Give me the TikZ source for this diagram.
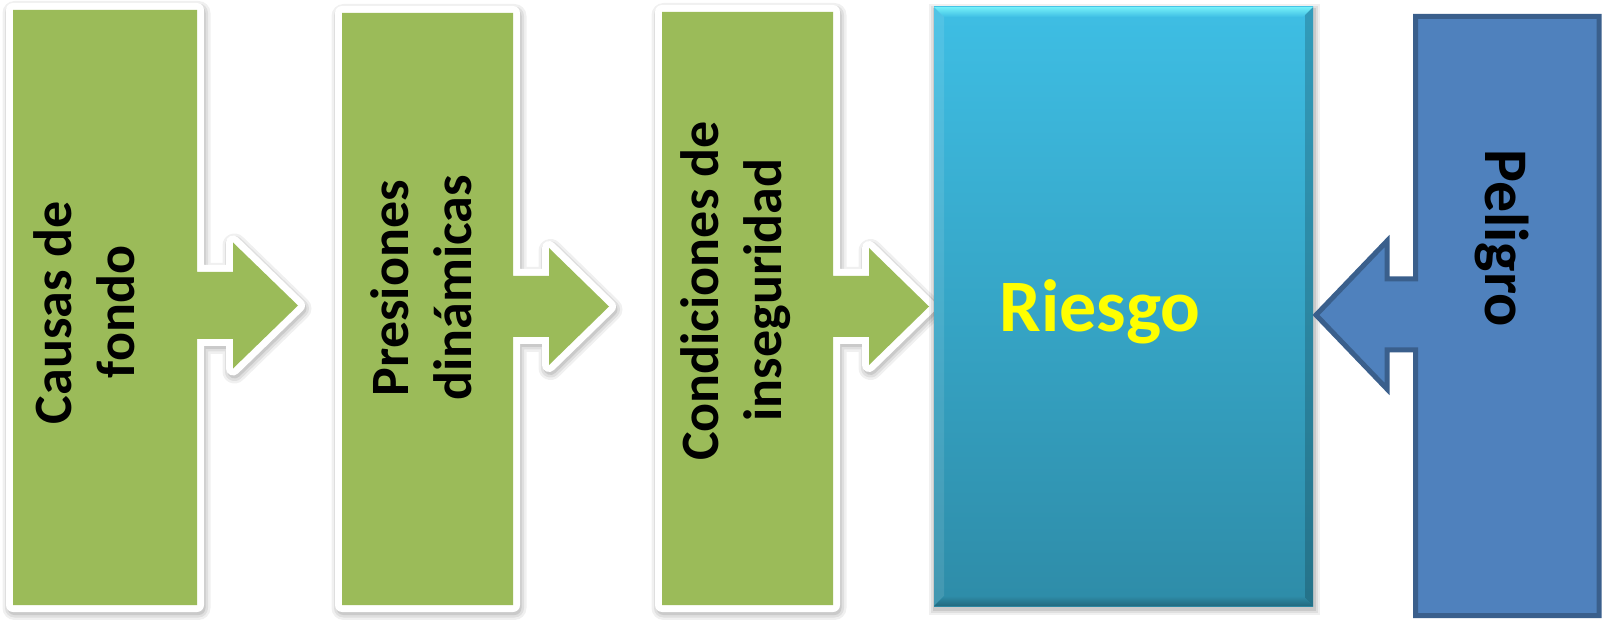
\documentclass[tikz,border=0pt]{standalone}
\usepackage{fontspec}
\setmainfont{Carlito}
\definecolor{gfill}{HTML}{9BBB59}
\definecolor{rtop}{HTML}{3EBEE4}
\definecolor{rbot}{HTML}{2E8CA8}
\definecolor{bfill}{HTML}{4F81BD}
\definecolor{bline}{HTML}{3A5F8C}
\definecolor{ryel}{HTML}{FFFF00}
% L T R B cy neckhalf headhalf tiplen
\newcommand\mygpath[8]{(#1,#2) -- (#3,#2) -- (#3,#5-#6) -- (#3+36,#5-#6) -- (#3+36,#5-#7) -- (#3+#8,#5) -- (#3+36,#5+#7) -- (#3+36,#5+#6) -- (#3,#5+#6) -- (#3,#4) -- (#1,#4) -- cycle}
\newcommand\mygshape[8]{%
  \foreach \w/\o in {24/0.06,19/0.07,14/0.09}{%
    \draw[black, opacity=\o, line width=\w pt, line join=round, shift={(1.5,3)}] \mygpath{#1}{#2}{#3}{#4}{#5}{#6}{#7}{#8};}
  \draw[white, line width=14pt, line join=round] \mygpath{#1}{#2}{#3}{#4}{#5}{#6}{#7}{#8};
  \fill[gfill] \mygpath{#1}{#2}{#3}{#4}{#5}{#6}{#7}{#8};
}
\tikzset{
  gtext/.style={inner sep=0pt, font=\fontsize{54}{60}\selectfont\bfseries, text=black},
  rtext/.style={inner sep=0pt, font=\fontsize{74}{80}\selectfont\bfseries, text=ryel},
  ptext/.style={inner sep=0pt, font=\fontsize{62}{68}\selectfont\bfseries, text=black},
}
\begin{document}
\begin{tikzpicture}[x=1pt,y=-1pt]
\useasboundingbox (0,0) rectangle (1604,620);
\fill[white] (0,0) rectangle (1604,620);
% green arrow boxes
\mygshape{13}{10}{197}{605}{305.5}{33.5}{63}{101}
\mygshape{342}{13}{513}{605}{306.5}{30.5}{58.5}{96}
\mygshape{662}{12}{833}{605}{306.5}{30.5}{58.5}{96}
% Riesgo box
\foreach \w/\o in {12/0.06,8/0.07,4/0.09}{%
  \draw[black, opacity=\o, line width=\w pt, shift={(1,3)}] (934,7) rectangle (1313,606);}
\shade[top color=rtop, bottom color=rbot, middle color=rtop!50!rbot] (934,7) rectangle (1313,606);
\shade[top color=rtop!40!cyan!60!white, bottom color=rtop] (934,7) -- (1313,7) -- (1303,17) -- (944,17) -- cycle;
\fill[white, opacity=0.10] (934,7) -- (944,17) -- (944,596) -- (934,606) -- cycle;
\fill[black, opacity=0.18] (1313,7) -- (1305,15) -- (1305,598) -- (1313,606) -- cycle;
\shade[top color=rbot, bottom color=rbot!75!black] (934,606) -- (944,596) -- (1303,596) -- (1313,606) -- cycle;
% Peligro arrow box
\draw[bline, fill=bfill, line width=5pt, line join=miter]
  (1415.5,16.5) -- (1599,16.5) -- (1599,615.5) -- (1415.5,615.5) -- (1415.5,350)
  -- (1387,350) -- (1387,389) -- (1316,315) -- (1387,241) -- (1387,279)
  -- (1415.5,279) -- cycle;
% texts
\node[gtext, rotate=90, anchor=base] (t1a) at (71,313) {Causas de};
\node[gtext, rotate=90, anchor=base] (t1b) at (134,312) {fondo};
\node[gtext, rotate=90, anchor=base] (t2a) at (408,288) {Presiones};
\node[gtext, rotate=90, anchor=base] (t2b) at (471,288) {dinámicas};
\node[gtext, rotate=90, anchor=base] (t3a) at (718,291) {Condiciones de};
\node[gtext, rotate=90, anchor=base] (t3b) at (781,290) {inseguridad};
\node[rtext, anchor=base] (riesgo) at (1100,331) {Riesgo};
\node[ptext, rotate=-90, anchor=base] (peligro) at (1485,238) {Peligro};
\end{tikzpicture}
\end{document}
